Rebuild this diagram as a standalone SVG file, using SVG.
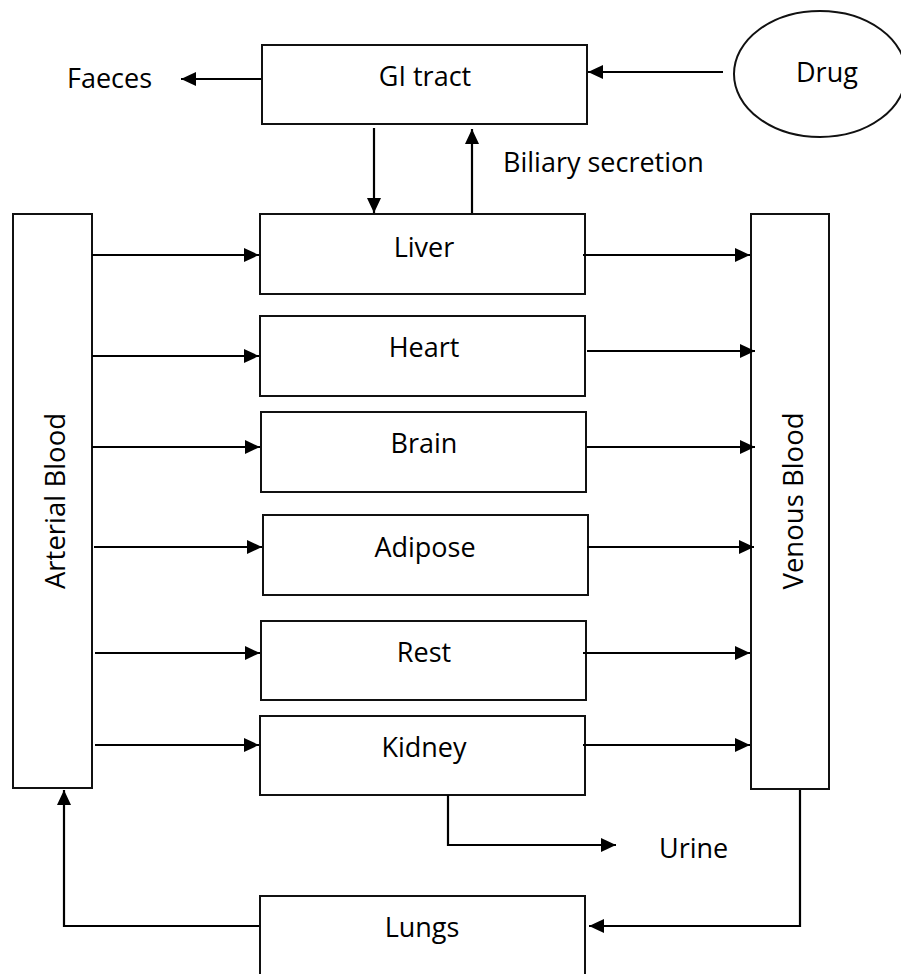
<svg xmlns="http://www.w3.org/2000/svg" width="901" height="974" viewBox="0 0 901 974">
  <style>
    .box { fill: #ffffff; stroke: #111111; stroke-width: 2; }
    .lbl { font-family: "Open Sans", "Liberation Sans", sans-serif; font-size: 27px; fill: #000000; }
    .mid { text-anchor: middle; }
    .vert { font-size: 27.5px; }
    .wire { fill: none; stroke: #000000; stroke-width: 2.2; }
    .arr { marker-end: url(#head); }
  </style>
  <defs>
    <marker id="head" markerUnits="userSpaceOnUse" markerWidth="16" markerHeight="14" refX="15" refY="7" orient="auto">
      <path d="M0,0 L15,7 L0,14 z" fill="#000000"/>
    </marker>
  </defs>

  <rect width="901" height="974" fill="#ffffff"/>

  <!-- nodes -->
  <g id="drug">
    <ellipse cx="820" cy="74" rx="86" ry="63" fill="#ffffff" stroke="#111111" stroke-width="2"/>
    <text class="lbl" x="796" y="82">Drug</text>
  </g>
  <g id="gi-tract">
    <rect class="box" x="262" y="45" width="325" height="79"/>
    <text class="lbl mid" x="425" y="86">GI tract</text>
  </g>
  <g id="faeces">
    <text class="lbl" x="67" y="88">Faeces</text>
  </g>
  <g id="biliary-secretion">
    <text class="lbl" x="503" y="172">Biliary secretion</text>
  </g>
  <g id="arterial-blood">
    <rect class="box" x="13" y="214" width="79" height="574"/>
    <text class="lbl mid vert" transform="translate(65,501) rotate(-90)">Arterial Blood</text>
  </g>
  <g id="venous-blood">
    <rect class="box" x="751" y="214" width="78" height="575"/>
    <text class="lbl mid vert" transform="translate(803,501) rotate(-90)">Venous Blood</text>
  </g>
  <g id="liver">
    <rect class="box" x="260" y="214" width="325" height="80"/>
    <text class="lbl mid" x="424" y="257">Liver</text>
  </g>
  <g id="heart">
    <rect class="box" x="260" y="316" width="325" height="80"/>
    <text class="lbl mid" x="424" y="357">Heart</text>
  </g>
  <g id="brain">
    <rect class="box" x="261" y="412" width="325" height="80"/>
    <text class="lbl mid" x="424" y="453">Brain</text>
  </g>
  <g id="adipose">
    <rect class="box" x="263" y="515" width="325" height="80"/>
    <text class="lbl mid" x="425" y="557">Adipose</text>
  </g>
  <g id="rest">
    <rect class="box" x="261" y="621" width="325" height="79"/>
    <text class="lbl mid" x="424" y="662">Rest</text>
  </g>
  <g id="kidney">
    <rect class="box" x="260" y="716" width="325" height="79"/>
    <text class="lbl mid" x="424" y="757">Kidney</text>
  </g>
  <g id="urine">
    <text class="lbl" x="659" y="858">Urine</text>
  </g>
  <g id="lungs">
    <rect class="box" x="260" y="896" width="325" height="90"/>
    <text class="lbl mid" x="422" y="937">Lungs</text>
  </g>

  <!-- connectors -->
  <g id="connectors">
    <line class="wire arr" x1="723" y1="72" x2="588" y2="72"/>
    <line class="wire arr" x1="261" y1="79" x2="181" y2="79"/>
    <line class="wire arr" x1="374" y1="128" x2="374" y2="213"/>
    <line class="wire arr" x1="472" y1="213" x2="472" y2="129"/>

    <line class="wire arr" x1="92" y1="255" x2="259" y2="255"/>
    <line class="wire arr" x1="92" y1="356" x2="259" y2="356"/>
    <line class="wire arr" x1="92" y1="447" x2="260" y2="447"/>
    <line class="wire arr" x1="94" y1="547" x2="262" y2="547"/>
    <line class="wire arr" x1="95" y1="653" x2="260" y2="653"/>
    <line class="wire arr" x1="95" y1="745" x2="259" y2="745"/>

    <line class="wire arr" x1="583" y1="255" x2="750" y2="255"/>
    <line class="wire arr" x1="587" y1="351" x2="755" y2="351"/>
    <line class="wire arr" x1="587" y1="447" x2="755" y2="447"/>
    <line class="wire arr" x1="587" y1="547" x2="754" y2="547"/>
    <line class="wire arr" x1="583" y1="653" x2="750" y2="653"/>
    <line class="wire arr" x1="583" y1="745" x2="750" y2="745"/>

    <polyline class="wire arr" points="448,795 448,845 616,845"/>
    <polyline class="wire arr" points="800,790 800,926 589,926"/>
    <polyline class="wire arr" points="259,926 64,926 64,790"/>
  </g>
</svg>
